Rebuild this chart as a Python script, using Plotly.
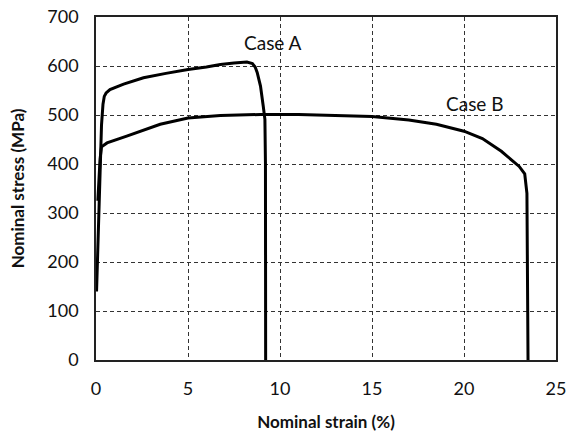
import plotly.graph_objects as go

# Case A (nominal strain %, nominal stress MPa)
case_a_strain = [0.03, 0.12, 0.2, 0.3, 0.38, 0.45, 0.55, 0.76, 1.5, 2.58, 3.8, 5.0, 6.0, 6.76, 7.5, 8.2, 8.5, 8.65, 8.76, 8.94, 9.09, 9.18, 9.21, 9.22]
case_a_stress = [140, 250, 360, 480, 522, 538, 545, 552, 563, 576, 585, 593, 598, 603, 606, 608, 605, 598, 587, 559, 518, 491, 400, 0]

# Case B
case_b_strain = [0.1, 0.15, 0.22, 0.3, 0.6, 1.67, 3.49, 5.0, 6.76, 8.94, 11.0, 13.0, 15.0, 17.0, 18.5, 20.0, 21.0, 22.03, 22.57, 23.0, 23.3, 23.42, 23.48]
case_b_stress = [325, 370, 410, 435, 443, 457, 481, 494, 499, 501, 501, 499, 497, 490, 481, 467, 452, 426, 409, 395, 380, 340, 0]

x_ticks = [0, 5, 10, 15, 20, 25]
y_ticks = [0, 100, 200, 300, 400, 500, 600, 700]

FONT = "Lato, 'Open Sans', sans-serif"

fig = go.Figure()
fig.add_trace(go.Scatter(x=case_a_strain, y=case_a_stress, mode="lines",
                         line=dict(color="black", width=3), name="Case A", showlegend=False))
fig.add_trace(go.Scatter(x=case_b_strain, y=case_b_stress, mode="lines",
                         line=dict(color="black", width=3), name="Case B", showlegend=False))

fig.add_annotation(x=9.6, y=647, text="Case A", showarrow=False,
                   font=dict(family=FONT, size=19, color="#111111"))
fig.add_annotation(x=20.6, y=524, text="Case B", showarrow=False,
                   font=dict(family=FONT, size=19, color="#111111"))

fig.update_layout(
    width=570, height=436,
    margin=dict(l=96, r=14, t=17, b=76),
    paper_bgcolor="white", plot_bgcolor="white",
    font=dict(family=FONT, size=18, color="#111111"),
    xaxis=dict(range=[0, 25], tickvals=x_ticks, showgrid=True, automargin=False,
               gridcolor="#333333", griddash="4px,3px", gridwidth=1,
               showline=True, linecolor="#222222", linewidth=1.5, mirror=True,
               ticks="", zeroline=False, ticklabelstandoff=12,
               title=dict(text="<b>Nominal strain (%)</b>", font=dict(size=17), standoff=18)),
    yaxis=dict(range=[0, 700], tickvals=y_ticks, showgrid=True, automargin=False,
               gridcolor="#333333", griddash="4px,3px", gridwidth=1,
               showline=True, linecolor="#222222", linewidth=1.5, mirror=True,
               ticks="", zeroline=False, ticklabelstandoff=12,
               title=dict(text="<b>Nominal stress (MPa)</b>", font=dict(size=17), standoff=18)),
)

fig.write_html("out.html")
